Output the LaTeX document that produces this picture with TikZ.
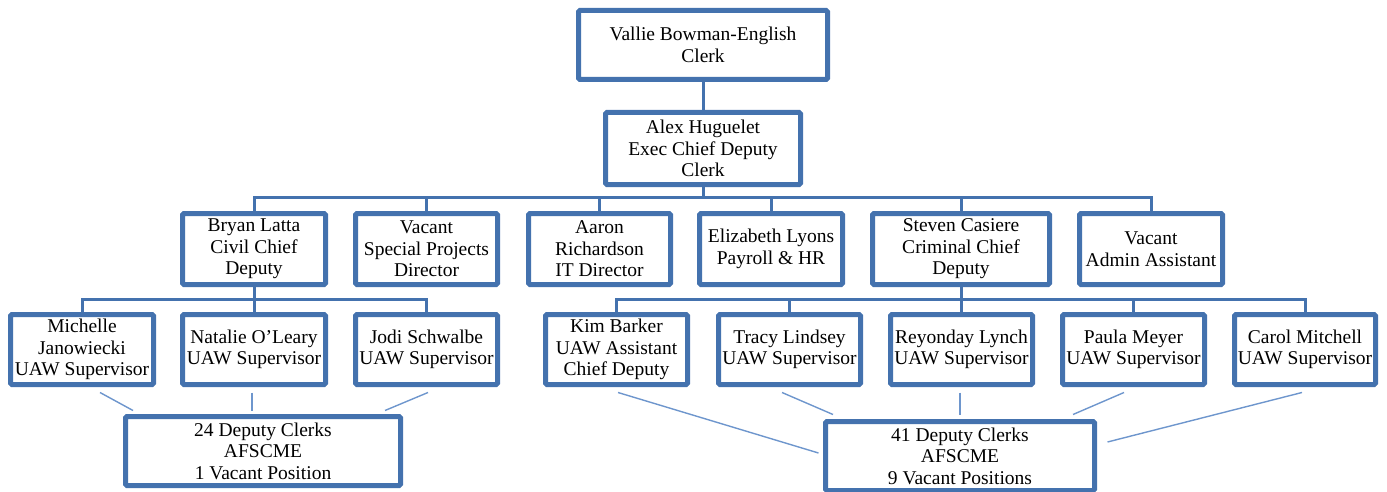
\documentclass[tikz,border=0pt]{standalone}
\usepackage{fontspec}
\setmainfont{Liberation Serif}
\usetikzlibrary{shadows}

\begin{document}
\begin{tikzpicture}[x=1pt,y=-1pt]
        % Define colors
        \definecolor{boxblue}{RGB}{68,114,174}
        \definecolor{linkblue}{RGB}{110,150,205}
        
        \tikzset{
            box/.style={draw=boxblue, line width=5pt, fill=white, rounded corners=1.5pt,
                align=center, inner sep=0pt, minimum width=143pt, minimum height=71pt,
                font=\fontsize{19.5}{21.5}\selectfont,
                drop shadow={opacity=0.25, shadow xshift=1.5pt, shadow yshift=-2pt}},
            bus/.style={draw=boxblue, line width=3pt},
            link/.style={draw=linkblue, line width=1.4pt}
        }
        
        \useasboundingbox (0,0) rectangle (1387,492);
        
        % Top of the chart
        \node[box, minimum width=249pt, minimum height=69pt] (clerk) at (703,45) {Vallie Bowman-English\\Clerk};
        \node[box, minimum width=195pt, minimum height=72pt] (alex) at (703,148.5) {Alex Huguelet\\Exec Chief Deputy\\Clerk};
        
        % Deputies
        \node[box] (bryan) at (254,249) {Bryan Latta\\Civil Chief\\Deputy};
        \node[box, minimum width=142pt] (vsp) at (426.5,249) {Vacant\\Special Projects\\Director};
        \node[box, minimum width=142pt] (aaron) at (599.5,249) {Aaron\\Richardson\\IT Director};
        \node[box] (eliz) at (771,249) {Elizabeth Lyons\\Payroll \& HR};
        \node[box, minimum width=177pt] (steven) at (961,249) {Steven Casiere\\Criminal Chief\\Deputy};
        \node[box] (admin) at (1151,249) {Vacant\\Admin Assistant};
        
        % Supervisors
        \node[box, minimum height=70pt] (mich) at (82,349.5) {Michelle\\Janowiecki\\UAW Supervisor};
        \node[box, minimum height=70pt] (nat) at (254,349.5) {Natalie O'Leary\\UAW Supervisor};
        \node[box, minimum width=142pt, minimum height=70pt] (jodi) at (426.5,349.5) {Jodi Schwalbe\\UAW Supervisor};
        \node[box, minimum width=142pt, minimum height=70pt] (kim) at (616.5,349.5) {Kim Barker\\UAW Assistant\\Chief Deputy};
        \node[box, minimum width=142pt, minimum height=70pt] (tracy) at (789.5,349.5) {Tracy Lindsey\\UAW Supervisor};
        \node[box, minimum width=142pt, minimum height=70pt] (rey) at (961.5,349.5) {Reyonday Lynch\\UAW Supervisor};
        \node[box, minimum width=142pt, minimum height=70pt] (paula) at (1133.5,349.5) {Paula Meyer\\UAW Supervisor};
        \node[box, minimum width=141pt, minimum height=70pt] (carol) at (1305,349.5) {Carol Mitchell\\UAW Supervisor};
        
        % Deputy clerks
        \node[box, minimum width=275pt, minimum height=69pt] (dep24) at (263,451) {24 Deputy Clerks\\AFSCME\\1 Vacant Position};
        \node[box, minimum width=269pt, minimum height=69pt] (dep41) at (960,456) {41 Deputy Clerks\\AFSCME\\9 Vacant Positions};
        
        % Bus lines
        \coordinate (topbus) at (703,197);
        \coordinate (civbus) at (254,299);
        \coordinate (crimbus) at (961,299);
        \draw[bus] (clerk.south) -- (alex.north);
        \draw[bus] (alex.south) -- (topbus);
        \foreach \n in {bryan,vsp,aaron,eliz,steven,admin}
            \draw[bus] (topbus) -| (\n.north);
        \draw[bus] (bryan.south) -- (civbus);
        \foreach \n in {mich,nat,jodi}
            \draw[bus] (civbus) -| (\n.north);
        \draw[bus] (steven.south) -- (crimbus);
        \foreach \n in {kim,tracy,rey,paula,carol}
            \draw[bus] (crimbus) -| (\n.north);
        
        % Links to the deputy clerks
        \draw[link] ([xshift=18pt,yshift=-5.5pt]mich.south) -- ([xshift=-130pt,yshift=3.5pt]dep24.north);
        \draw[link] ([xshift=-2pt,yshift=-5.5pt]nat.south) -- ([xshift=-11pt,yshift=3.5pt]dep24.north);
        \draw[link] ([xshift=1.5pt,yshift=-5.5pt]jodi.south) -- ([xshift=122pt,yshift=3.5pt]dep24.north);
        \draw[link] ([xshift=1.5pt,yshift=-5.5pt]kim.south) -- ([xshift=-4.5pt,yshift=3pt]dep41.west);
        \draw[link] ([xshift=-7.5pt,yshift=-5.5pt]tracy.south) -- ([xshift=-127pt,yshift=4.5pt]dep41.north);
        \draw[link] ([xshift=-1.5pt,yshift=-5.5pt]rey.south) -- ([yshift=4.5pt]dep41.north);
        \draw[link] ([xshift=-9.5pt,yshift=-5.5pt]paula.south) -- ([xshift=113pt,yshift=4.5pt]dep41.north);
        \draw[link] ([xshift=-3pt,yshift=-5.5pt]carol.south) -- ([xshift=10.5pt,yshift=14pt]dep41.east);
        
    \end{tikzpicture}
\end{document}
